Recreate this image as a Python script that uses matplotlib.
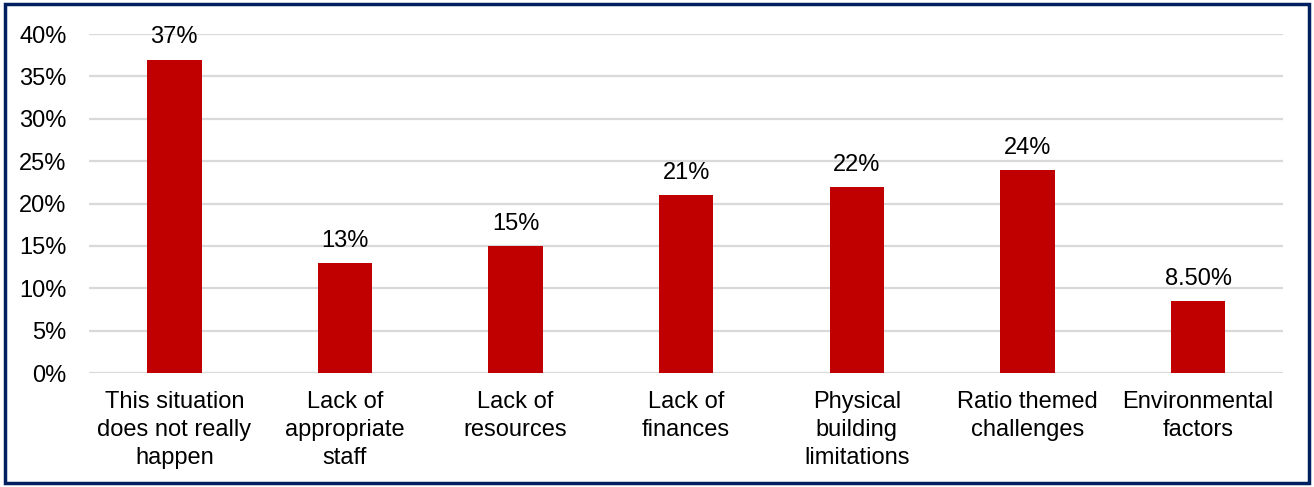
import matplotlib
matplotlib.use("Agg")
import matplotlib.pyplot as plt
from matplotlib.patches import Rectangle
from matplotlib.ticker import FuncFormatter

categories = [
    "This situation\ndoes not really\nhappen",
    "Lack of\nappropriate\nstaff",
    "Lack of\nresources",
    "Lack of\nfinances",
    "Physical\nbuilding\nlimitations",
    "Ratio themed\nchallenges",
    "Environmental\nfactors",
]
values = [37, 13, 15, 21, 22, 24, 8.5]
value_labels = ["37%", "13%", "15%", "21%", "22%", "24%", "8.50%"]
y_ticks = [0, 5, 10, 15, 20, 25, 30, 35, 40]

plt.rcParams["font.family"] = ["Liberation Sans", "DejaVu Sans"]

fig = plt.figure(figsize=(13.14, 4.87), dpi=100)
ax = fig.add_axes([0.0677, 0.234, 0.909, 0.696])

x = range(len(categories))
bars = ax.bar(x, values, width=0.32, color="#C00000", zorder=3)

for b, lab in zip(bars, value_labels):
    ax.annotate(lab, (b.get_x() + b.get_width() / 2, b.get_height()),
                xytext=(0, 8), textcoords="offset points",
                ha="center", va="bottom", fontsize=17, color="#000000")

ax.set_xlim(-0.5, len(categories) - 0.5)
ax.set_ylim(0, 40)
ax.set_yticks(y_ticks)
ax.yaxis.set_major_formatter(FuncFormatter(lambda v, p: f"{v:.0f}%"))
ax.set_xticks(list(x))
ax.set_xticklabels(categories, fontsize=17, linespacing=1.36)
ax.tick_params(axis="y", labelsize=17, length=0, pad=16)
ax.tick_params(axis="x", length=0, pad=13)

ax.grid(axis="y", color="#D9D9D9", linewidth=1.6, zorder=0)
for s in ax.spines.values():
    s.set_visible(False)

# navy frame around the whole figure
fig.patches.append(Rectangle((5 / 1314, 4 / 487), 1304 / 1314, 479 / 487,
                             transform=fig.transFigure, fill=False,
                             edgecolor="#002060", linewidth=2.5))

fig.savefig("out.png", dpi=100, facecolor="white")
